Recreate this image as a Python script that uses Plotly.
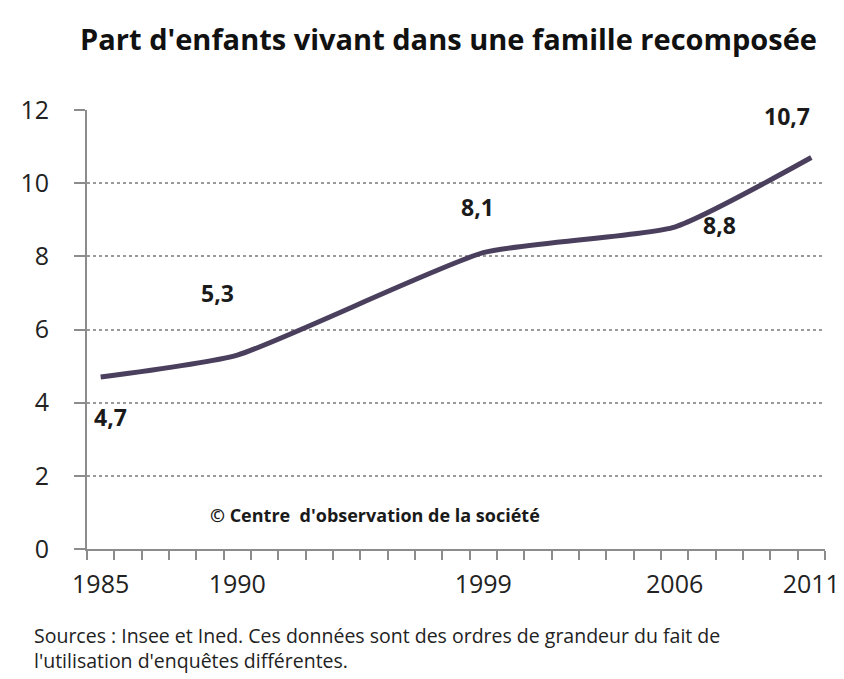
import plotly.graph_objects as go

years = [1985, 1990, 1999, 2006, 2011]
values = [4.7, 5.3, 8.1, 8.8, 10.7]
labels = ["4,7", "5,3", "8,1", "8,8", "10,7"]
label_dx = [10, -20, -6, 45, -24]
label_dy = [-40, 62, 46, 2, 42]
y_ticks = [0, 2, 4, 6, 8, 10, 12]
source_lines = ["Sources : Insee et Ined. Ces données sont des ordres de grandeur du fait de",
                "l'utilisation d'enquêtes différentes."]

FONT = "Open Sans"
fig = go.Figure()
fig.add_trace(go.Scatter(
    x=years, y=values, mode="lines",
    line=dict(color="#4a405e", width=5, shape="spline", smoothing=0.5),
    hoverinfo="skip", showlegend=False,
))

for x, y, t, dx, dy in zip(years, values, labels, label_dx, label_dy):
    fig.add_annotation(x=x, y=y, text=t, showarrow=False, xshift=dx, yshift=dy,
                       font=dict(family=FONT, size=23, color="#1a1a1a", weight="bold"))

fig.add_annotation(xref="paper", yref="paper", x=0.39, y=0.046,
                   text="© Centre  d'observation de la société",
                   showarrow=False, font=dict(family=FONT, size=18, color="#1a1a1a", weight="bold"))

fig.add_annotation(xref="paper", yref="paper", x=-0.075, y=(541 - 640) / 439,
                   xanchor="left", yanchor="middle", align="left", text="<br>".join(source_lines),
                   showarrow=False, font=dict(family=FONT, size=19.5, color="#222222"))

fig.update_layout(
    width=844, height=679,
    margin=dict(l=77, r=22, t=102, b=138),
    paper_bgcolor="white", plot_bgcolor="white",
    title=dict(text="Part d'enfants vivant dans une famille recomposée", x=0.522, xanchor="center",
               y=0.953, yanchor="middle",
               font=dict(family=FONT, size=29, color="#111111", weight="bold")),
    font=dict(family=FONT),
)
fig.update_xaxes(
    range=[1984.5, 2011.5], tickvals=years, ticktext=[str(y) for y in years],
    ticks="", showgrid=False, zeroline=False,
    showline=True, linecolor="#8c8c8c", linewidth=2,
    tickfont=dict(family=FONT, size=25, color="#222222"), ticklabelstandoff=12,
    minor=dict(tickmode="linear", tick0=1984.5, dtick=1, ticks="outside", ticklen=9,
               tickcolor="#8c8c8c", tickwidth=1.5, showgrid=False),
)
fig.update_yaxes(
    range=[0, 12], tickvals=y_ticks, ticktext=[str(v) for v in y_ticks],
    ticks="outside", ticklen=11, tickcolor="#8c8c8c", tickwidth=1.5,
    showline=True, linecolor="#8c8c8c", linewidth=2,
    showgrid=True, gridcolor="#9a9a9a", griddash="dot", gridwidth=1.5,
    zeroline=False, ticklabelstandoff=20,
    tickfont=dict(family=FONT, size=25, color="#222222"),
)

fig.write_html("out.html")
